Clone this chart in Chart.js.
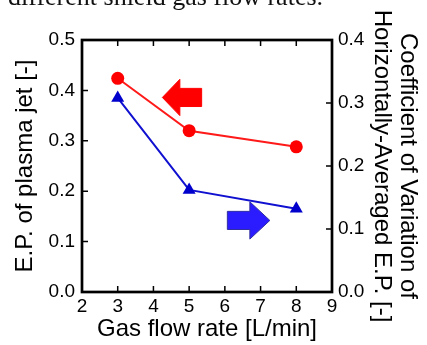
<!DOCTYPE html>
<html lang="en">
<head>
    <meta charset="UTF-8">
    <title>E.P. vs gas flow rate</title>
    <script src="https://cdn.jsdelivr.net/npm/chart.js"></script>
    <style>
        body {
            margin: 0;
            background: white;
            width: 427px;
            height: 345px;
            overflow: hidden;
            position: relative;
        }
        #chart {
            position: absolute;
            left: 0;
            top: 0;
        }
        .caption {
            position: absolute;
            left: 8px;
            top: -16px;
            font-family: 'Liberation Serif', serif;
            font-size: 26px;
            line-height: 26px;
            white-space: nowrap;
            color: #111;
        }
    </style>
</head>
<body>
    <canvas id="chart" width="427" height="345"></canvas>
    <div class="caption">different shield gas flow rates.</div>

    <script>
        // data
        const flowRates = [3, 5, 8];
        const epValues = [0.424, 0.32, 0.288];   // left axis
        const cvValues = [0.308, 0.162, 0.132];  // right axis

        const xTicks = [2, 3, 4, 5, 6, 7, 8, 9];
        const leftTicks = [0.0, 0.1, 0.2, 0.3, 0.4, 0.5];
        const rightTicks = [0.0, 0.1, 0.2, 0.3, 0.4];

        // arrows in data units (x, left-axis y)
        const arrows = [
            { color: '#ff0000', edge: '#ff0000', tip: 4.25, base: 4.74, tail: 5.35, y: 0.386, head: 0.036, shaft: 0.018 },
            { color: '#2b1cff', edge: '#3030a0', tip: 7.26, base: 6.70, tail: 6.07, y: 0.142, head: 0.037, shaft: 0.018 }
        ];

        const tickFont = { family: "'Liberation Sans', Arial, sans-serif", size: 19 };
        const titleFont = { family: "'Liberation Sans', Arial, sans-serif", size: 24, lineHeight: 1.1 };

        // box around plot + inward ticks on all four sides
        const frame = {
            id: 'frame',
            afterDatasetsDraw(chart) {
                const { ctx, chartArea: a, scales } = chart;
                ctx.save();
                ctx.strokeStyle = '#000';
                ctx.lineWidth = 1.5;
                ctx.beginPath();
                xTicks.forEach(v => {
                    const px = scales.x.getPixelForValue(v);
                    ctx.moveTo(px, a.bottom); ctx.lineTo(px, a.bottom - 6);
                    ctx.moveTo(px, a.top); ctx.lineTo(px, a.top + 6);
                });
                leftTicks.forEach(v => {
                    const py = scales.y.getPixelForValue(v);
                    ctx.moveTo(a.left, py); ctx.lineTo(a.left + 6, py);
                });
                rightTicks.forEach(v => {
                    const py = scales.y1.getPixelForValue(v);
                    ctx.moveTo(a.right, py); ctx.lineTo(a.right - 6, py);
                });
                ctx.stroke();
                ctx.lineWidth = 2.7;
                ctx.strokeRect(a.left, a.top, a.right - a.left, a.bottom - a.top);

                // direction arrows
                arrows.forEach(ar => {
                    const X = v => scales.x.getPixelForValue(v);
                    const Y = v => scales.y.getPixelForValue(v);
                    ctx.beginPath();
                    ctx.moveTo(X(ar.tip), Y(ar.y));
                    ctx.lineTo(X(ar.base), Y(ar.y + ar.head));
                    ctx.lineTo(X(ar.base), Y(ar.y + ar.shaft));
                    ctx.lineTo(X(ar.tail), Y(ar.y + ar.shaft));
                    ctx.lineTo(X(ar.tail), Y(ar.y - ar.shaft));
                    ctx.lineTo(X(ar.base), Y(ar.y - ar.shaft));
                    ctx.lineTo(X(ar.base), Y(ar.y - ar.head));
                    ctx.closePath();
                    ctx.fillStyle = ar.color;
                    ctx.fill();
                    ctx.lineWidth = 1;
                    ctx.strokeStyle = ar.edge;
                    ctx.stroke();
                });
                ctx.restore();
            }
        };

        new Chart(document.getElementById('chart'), {
            type: 'line',
            data: {
                datasets: [
                    {
                        label: 'E.P.',
                        data: flowRates.map((x, i) => ({ x: x, y: epValues[i] })),
                        yAxisID: 'y',
                        borderColor: '#ff1a1a',
                        backgroundColor: '#ff0000',
                        borderWidth: 2,
                        pointStyle: 'circle',
                        pointRadius: 6.5,
                        pointBorderWidth: 0,
                        tension: 0
                    },
                    {
                        label: 'CV',
                        data: flowRates.map((x, i) => ({ x: x, y: cvValues[i] })),
                        yAxisID: 'y1',
                        borderColor: '#1010d0',
                        backgroundColor: '#0000cc',
                        borderWidth: 2,
                        pointStyle: 'triangle',
                        pointRadius: 7.5,
                        pointBorderWidth: 0,
                        tension: 0
                    }
                ]
            },
            options: {
                responsive: false,
                animation: false,
                layout: { padding: { top: 40, left: 0, right: 0, bottom: 0 } },
                plugins: { legend: { display: false }, tooltip: { enabled: false } },
                scales: {
                    x: {
                        type: 'linear',
                        min: 2, max: 9,
                        afterFit: s => { s.height = 53; },
                        grid: { display: false, drawTicks: false },
                        border: { display: false },
                        ticks: { stepSize: 1, font: tickFont, color: '#000', padding: 3 },
                        title: { display: true, text: 'Gas flow rate [L/min]', font: titleFont, color: '#000', padding: { top: 0, bottom: 2 } }
                    },
                    y: {
                        position: 'left',
                        min: 0, max: 0.5,
                        afterFit: s => { s.width = 82; },
                        grid: { display: false, drawTicks: false },
                        border: { display: false },
                        ticks: { stepSize: 0.1, font: tickFont, color: '#000', padding: 7, callback: v => v.toFixed(1) },
                        title: { display: true, text: 'E.P. of plasma jet [-]', font: titleFont, color: '#000', padding: { top: 12, bottom: 0 } }
                    },
                    y1: {
                        position: 'right',
                        min: 0, max: 0.4,
                        afterFit: s => { s.width = 95; },
                        grid: { display: false, drawTicks: false },
                        border: { display: false },
                        ticks: { stepSize: 0.1, font: tickFont, color: '#000', padding: 6, callback: v => v.toFixed(1) },
                        title: {
                            display: true,
                            text: ['Coefficient of Variation of', 'Horizontally-Averaged E.P. [-]'],
                            font: titleFont, color: '#000',
                            padding: { top: 6, bottom: 0 }
                        }
                    }
                }
            },
            plugins: [frame]
        });
    </script>
</body>
</html>
